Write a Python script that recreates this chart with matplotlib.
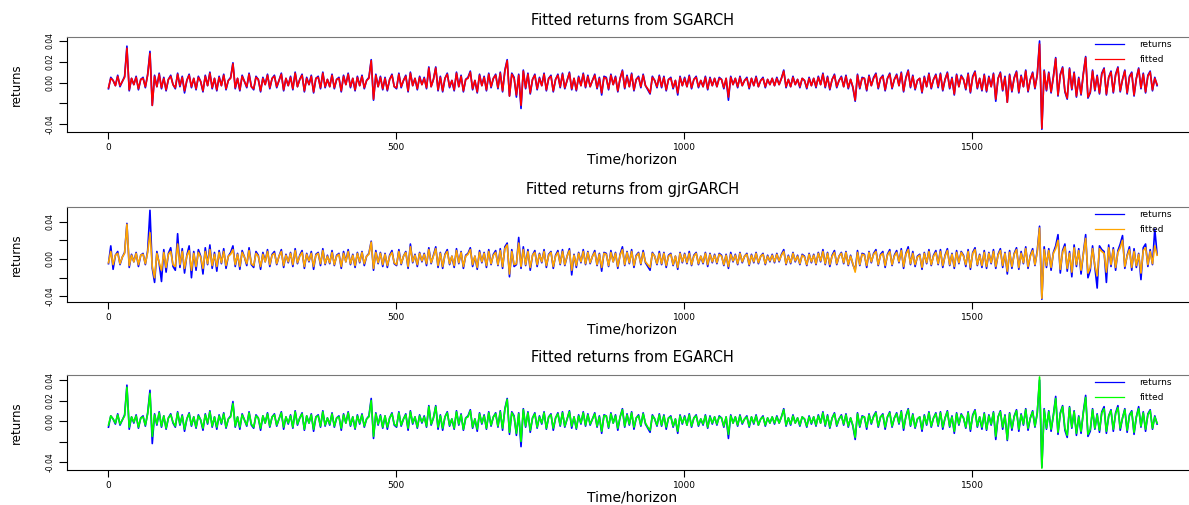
import numpy as np
import matplotlib.pyplot as plt

# observation index (every 4th day of the sample)
horizon = np.arange(1, 1822, 4)

# daily returns, in units of 0.001 (one row = 96 days)
returns_a = np.array([
    -6, 5, 2, -3, 7, -4, 1, 6, 35, -8, 4, -2, 6, -7, 3, 5, -5, 8, 30, -22, 7, -4, 9, -6,
    5, -8, 3, 7, -2, -6, 9, -4, 6, -10, 2, 8, -5, 4, -7, 6, 1, -9, 7, -3, 10, -6, 4, -8,
    6, -3, 8, -7, 2, 5, 19, -6, 4, -8, 7, 1, -5, 9, -4, -7, 6, 3, -9, 5, -2, 8, -6, 4,
    7, -5, 2, 9, -8, 4, -3, 6, -7, 10, -4, 3, 8, -9, 5, -2, 7, -10, 4, 6, -6, 10, -5, 3,
    -4, 8, -6, 3, 5, -9, 7, -2, 9, -5, 4, -8, 6, -3, 7, -6, 2, 5, 22, -17, 8, -4, 6, -7,
    5, -8, 3, 8, -4, -6, 9, -5, 2, 7, -9, 10, -3, 4, -7, 6, -2, 5, -6, 15, -4, 3, 15, -8,
    6, -9, 4, 9, -5, 2, -8, 10, -4, 7, -9, 3, 5, 11, -7, 2, -10, 8, -3, 6, -8, 9, -5, 4,
    8, -6, 10, -9, 12, 22, -13, 9, 5, -14, 8, -25, 12, -6, 9, -11, 3, 8, -7, 5, -3, 9, -8, 4,
    7, -9, 3, 8, -5, 9, -6, 2, 10, -7, 4, -8, 6, -3, 9, -5, 7, -4, 2, 8, -6, 5, -12, 6,
    5, -7, 8, -2, 6, -9, 4, 12, -6, 7, -4, 9, -8, 3, 6, -5, 8, -3, -7, -11, 6, 2, -5, 7,
    -5, 6, -8, 3, 5, -6, 2, -12, 6, -3, 5, -4, 7, -6, 3, 6, -5, 2, -4, 6, -7, 5, -3, 4,
    -4, 5, 3, -6, 4, -17, 6, -2, 4, -5, 6, -3, 2, 5, -6, 4, -3, 6, -4, 2, 5, -5, 3, -2,
    4, -3, 5, -2, 4, 12, -5, 3, -4, 6, -2, 3, -5, 4, 2, -6, 5, -3, 4, -5, 6, -2, 9, -5,
    6, -7, 3, 8, -5, 2, 6, -4, 7, -6, 3, -5, -18, 8, -6, 5, 4, -8, 7, -3, 5, 9, -6, 4,
    7, -8, 4, 9, -6, 3, 8, -3, 10, -9, 5, 12, -5, 7, -7, 2, 4, -10, 6, -4, 9, -6, 3, 8,
    -5, 9, -8, 3, 10, -6, 5, -12, 8, -4, 7, 3, -7, 9, -10, 6, 11, -6, 4, -8, 8, -9, 6, -4,
    9, -18, 4, 10, -8, 6, -19, 8, -9, 5, 11, -10, 7, -4, 12, -9, 3, 10, -6, 8, 40, -45, 12, -8,
    10, -10, 6, 24, -13, 8, 15, -9, -16, 14, -7, 10, -14, 5, -12, 9, 25, -15, -10, 12, -8, 7, -11, 9,
    14, -12, 5, 11, -10, 8, 15, -9, 3, 12, -11, 6, 10, -13, 4, 14, -6, 9, -10, 7, 11, -8, 5, -3,
]) / 1000

fitted_sgarch = np.array([
    -5, 4, 2, -3, 6, -3, 1, 5, 33, -7, 4, -2, 5, -6, 3, 4, -4, 7, 28, -22, 6, -4, 8, -5,
    4, -7, 3, 6, -2, -5, 8, -3, 5, -8, 2, 7, -4, 4, -6, 5, 1, -8, 6, -3, 9, -5, 4, -7,
    5, -3, 7, -6, 2, 4, 18, -5, 4, -7, 6, 1, -4, 8, -4, -6, 5, 3, -8, 4, -2, 7, -5, 4,
    6, -4, 2, 8, -7, 4, -3, 5, -6, 9, -4, 3, 7, -8, 4, -2, 6, -9, 4, 5, -5, 9, -4, 3,
    -4, 7, -5, 3, 4, -8, 6, -2, 8, -4, 4, -7, 5, -3, 6, -5, 2, 4, 21, -16, 7, -4, 5, -6,
    4, -7, 3, 7, -4, -5, 8, -4, 2, 6, -8, 9, -3, 4, -6, 5, -2, 4, -5, 14, -4, 3, 14, -7,
    5, -8, 4, 8, -4, 2, -7, 9, -4, 6, -8, 3, 4, 10, -6, 2, -9, 7, -3, 5, -7, 8, -4, 4,
    7, -5, 9, -8, 11, 21, -13, 8, 4, -12, 7, -22, 11, -5, 8, -10, 3, 7, -6, 4, -3, 8, -7, 4,
    6, -8, 3, 7, -4, 8, -5, 2, 9, -6, 4, -7, 5, -3, 8, -4, 6, -4, 2, 7, -5, 4, -10, 5,
    4, -6, 7, -2, 5, -8, 4, 11, -5, 6, -4, 8, -7, 3, 5, -4, 7, -3, -6, -10, 5, 2, -4, 6,
    -4, 5, -7, 3, 4, -5, 2, -10, 5, -3, 4, -4, 6, -5, 3, 5, -4, 2, -4, 5, -6, 4, -3, 4,
    -4, 4, 3, -5, 4, -14, 5, -2, 4, -4, 5, -3, 2, 4, -5, 4, -3, 5, -4, 2, 4, -4, 3, -2,
    4, -3, 4, -2, 4, 11, -4, 3, -4, 5, -2, 3, -4, 4, 2, -5, 4, -3, 4, -4, 5, -2, 8, -4,
    5, -6, 3, 7, -4, 2, 5, -4, 6, -5, 3, -4, -17, 7, -5, 4, 4, -7, 6, -3, 4, 8, -5, 4,
    6, -7, 4, 8, -5, 3, 7, -3, 9, -8, 4, 11, -4, 6, -6, 2, 4, -9, 5, -4, 8, -5, 3, 7,
    -4, 8, -7, 3, 9, -5, 4, -11, 7, -4, 6, 3, -6, 8, -9, 5, 10, -5, 4, -7, 7, -8, 5, -4,
    8, -16, 4, 9, -7, 5, -19, 7, -8, 4, 10, -9, 6, -4, 11, -8, 3, 9, -5, 7, 37, -44, 11, -7,
    9, -9, 5, 23, -12, 7, 14, -8, -15, 13, -6, 9, -13, 4, -11, 8, 24, -14, -9, 11, -7, 6, -10, 8,
    13, -11, 5, 10, -9, 7, 14, -8, 3, 11, -10, 5, 9, -12, 4, 13, -5, 8, -9, 6, 10, -7, 4, -2,
]) / 1000

returns_b = np.array([
    -5, 14, -11, 4, 8, -6, 2, 7, 38, -9, 5, -3, 7, -8, 4, 6, -6, 9, 52, -10, -25, 8, -5, -24,
    10, -14, 6, 12, -8, -12, 27, -9, 11, -15, 4, 14, -20, 8, -12, 10, 3, -16, 12, -6, 15, -10, 7, -13,
    9, -5, 11, -10, 3, 7, 14, -8, 6, -11, 9, 2, -7, 12, -6, -9, 8, 4, -11, 7, -3, 10, -8, 5,
    8, -6, 3, 10, -9, 5, -4, 7, -8, 11, -5, 4, 9, -10, 6, -3, 8, -11, 5, 7, -7, 11, -6, 4,
    -5, 9, -7, 4, 6, -10, 8, -3, 10, -6, 5, -9, 7, -4, 8, -7, 3, 6, 19, -12, 9, -5, 7, -8,
    6, -9, 4, 9, -5, -7, 10, -6, 3, 8, -10, 16, -4, 5, -8, 7, -3, 6, -7, 12, -5, 4, 13, -9,
    7, -10, 5, 10, -6, 3, -9, 11, -5, 8, -10, 4, 6, 12, -8, 3, -11, 9, -4, 7, -9, 10, -6, 5,
    9, -7, 11, -10, 13, 17, -19, 10, -8, -6, 23, -10, 13, -7, 10, -12, 4, 9, -8, 6, -4, 10, -9, 5,
    8, -10, 4, 9, -6, 10, -7, 3, 11, -17, 5, -9, 7, -4, 10, -6, 8, -5, 3, 9, -7, 6, -13, 7,
    6, -8, 9, -3, 7, -10, 5, 13, -7, 8, -5, 10, -9, 4, 7, -6, 9, -4, -8, -12, 7, 3, -6, 8,
    -6, 7, -9, 4, 6, -7, 3, -11, 7, -4, 6, -5, 8, -7, 4, 7, -6, 3, -5, 7, -8, 6, -4, 5,
    -5, 6, 4, -7, 5, -10, 7, -3, 5, -6, 7, -4, 3, 6, -7, 5, -4, 7, -5, 3, 6, -6, 4, -3,
    5, -4, 6, -3, 5, 10, -6, 4, -5, 7, -3, 4, -6, 5, 3, -7, 6, -4, 5, -6, 7, -3, 10, -6,
    7, -8, 4, 9, -6, 3, 7, -5, 8, -7, 4, -6, -12, 9, -7, 6, 5, -9, 8, -4, 6, 10, -7, 5,
    8, -9, 5, 10, -7, 4, 9, -4, 11, -10, 6, 13, -6, 8, -8, 3, 5, -11, 7, -5, 10, -7, 4, 9,
    -6, 10, -9, 4, 11, -7, 6, -10, 9, -5, 8, 4, -8, 10, -11, 7, 12, -7, 5, -9, 9, -10, 7, -5,
    10, -10, 5, 11, -9, 7, -16, 9, -10, 6, 12, -11, 8, -5, 13, -10, 4, 11, -7, 9, 35, -43, 13, -9,
    11, -12, 7, 14, 26, -15, 9, 16, -13, 8, -19, 15, -8, 11, -16, 6, 26, -20, -12, 14, -9, -31, 14, 10,
    8, -25, 15, -8, 12, -12, 9, 16, 25, -10, 4, 13, -12, 11, -9, 6, -22, 12, 16, -8, 10, -6, 32, 5,
]) / 1000

fitted_gjr = np.array([
    -4, 8, -6, 4, 6, -5, 2, 6, 37, -7, 4, -3, 6, -6, 4, 5, -5, 7, 28, -8, -20, 6, -4, -12,
    7, -9, 5, 8, -6, -8, 16, -6, 8, -10, 3, 9, -12, 6, -8, 7, 2, -10, 8, -5, 10, -7, 5, -8,
    7, -4, 8, -7, 3, 5, 10, -6, 5, -8, 7, 2, -5, 9, -5, -7, 6, 3, -8, 5, -3, 8, -6, 4,
    6, -5, 3, 8, -7, 4, -3, 6, -6, 9, -4, 3, 7, -8, 5, -2, 6, -8, 4, 6, -5, 9, -5, 3,
    -4, 7, -6, 3, 5, -8, 6, -3, 8, -5, 4, -7, 6, -3, 7, -5, 3, 5, 18, -10, 7, -4, 6, -6,
    5, -7, 3, 7, -4, -6, 8, -5, 3, 7, -8, 13, -3, 4, -6, 6, -2, 5, -5, 10, -4, 3, 11, -7,
    6, -8, 4, 8, -5, 3, -7, 9, -4, 7, -8, 3, 5, 10, -6, 3, -9, 7, -3, 6, -7, 8, -5, 4,
    7, -6, 9, -8, 11, 15, -16, 8, -6, -5, 17, -8, 10, -6, 8, -9, 4, 7, -6, 5, -3, 8, -7, 4,
    7, -8, 3, 7, -5, 8, -6, 3, 9, -12, 4, -7, 6, -3, 8, -5, 7, -4, 3, 7, -6, 5, -9, 6,
    5, -7, 7, -3, 6, -8, 4, 10, -6, 7, -4, 8, -7, 3, 6, -5, 7, -3, -6, -9, 6, 3, -5, 6,
    -5, 6, -7, 3, 5, -6, 3, -9, 6, -3, 5, -4, 6, -6, 3, 6, -5, 3, -4, 6, -6, 5, -3, 4,
    -4, 5, 3, -6, 4, -8, 5, -2, 4, -5, 6, -3, 3, 5, -6, 4, -3, 6, -4, 3, 5, -5, 3, -2,
    4, -3, 5, -2, 4, 8, -5, 3, -4, 6, -2, 3, -5, 4, 2, -6, 5, -3, 4, -5, 6, -2, 8, -5,
    6, -6, 3, 7, -5, 3, 6, -4, 7, -6, 3, -5, -14, 7, -6, 5, 4, -7, 7, -3, 5, 8, -6, 4,
    6, -7, 4, 8, -6, 3, 7, -3, 9, -8, 5, 10, -5, 6, -6, 2, 4, -9, 6, -4, 8, -6, 3, 7,
    -5, 8, -7, 3, 9, -6, 5, -8, 7, -4, 7, 3, -6, 8, -9, 6, 10, -6, 4, -7, 7, -8, 6, -4,
    8, -8, 4, 9, -7, 6, -13, 7, -8, 5, 10, -9, 6, -4, 11, -8, 3, 9, -6, 7, 33, -42, 10, -7,
    9, -9, 6, 11, 20, -11, 7, 13, -10, 6, -14, 12, -6, 9, -12, 5, 22, -15, -9, 11, -7, -18, 11, 8,
    6, -14, 12, -6, 10, -9, 7, 12, 20, -8, 3, 10, -9, 8, -7, 5, -15, 9, 12, -6, 8, -5, 14, 4,
]) / 1000

fitted_egarch = np.array([
    -4, 5, 2, -2, 6, -3, 1, 5, 33, -6, 4, -1, 5, -6, 3, 4, -4, 7, 27, -15, 6, -3, 8, -5,
    5, -7, 3, 6, -1, -5, 8, -3, 5, -8, 2, 7, -4, 4, -6, 5, 1, -7, 6, -2, 9, -5, 4, -6,
    5, -2, 7, -6, 2, 4, 17, -5, 4, -6, 6, 1, -4, 8, -3, -6, 5, 3, -7, 5, -2, 7, -5, 4,
    6, -4, 2, 8, -6, 4, -2, 5, -6, 9, -3, 3, 7, -8, 5, -2, 6, -8, 4, 5, -5, 9, -4, 3,
    -3, 7, -5, 3, 4, -7, 6, -2, 8, -4, 4, -7, 5, -2, 6, -5, 2, 4, 20, -15, 7, -3, 5, -6,
    5, -6, 3, 7, -3, -5, 8, -4, 2, 6, -7, 9, -2, 4, -6, 5, -1, 4, -5, 14, -3, 3, 14, -6,
    5, -7, 4, 8, -4, 2, -7, 9, -3, 6, -8, 3, 4, 10, -6, 2, -8, 7, -2, 5, -7, 8, -4, 4,
    7, -5, 9, -7, 11, 21, -11, 8, 4, -12, 7, -20, 11, -5, 8, -9, 3, 7, -6, 4, -2, 8, -7, 4,
    6, -7, 3, 7, -4, 8, -5, 2, 9, -5, 4, -7, 5, -2, 8, -4, 6, -3, 2, 7, -5, 4, -10, 5,
    5, -6, 7, -2, 5, -7, 4, 11, -5, 6, -3, 8, -6, 3, 5, -4, 7, -2, -6, -9, 5, 2, -4, 6,
    -4, 5, -6, 3, 4, -5, 2, -10, 5, -2, 4, -4, 6, -5, 3, 5, -4, 2, -3, 5, -6, 4, -2, 4,
    -3, 4, 3, -5, 4, -13, 5, -2, 4, -4, 5, -2, 2, 4, -5, 4, -2, 5, -4, 2, 4, -4, 3, -2,
    4, -2, 4, -2, 4, 11, -4, 3, -3, 5, -2, 3, -4, 4, 2, -5, 4, -2, 4, -4, 5, -2, 8, -4,
    5, -6, 3, 7, -4, 2, 5, -3, 6, -5, 3, -4, -16, 7, -5, 4, 4, -6, 6, -2, 4, 8, -5, 4,
    6, -6, 4, 8, -5, 3, 7, -2, 9, -7, 4, 11, -4, 6, -6, 2, 4, -8, 5, -3, 8, -5, 3, 7,
    -4, 8, -6, 3, 9, -5, 4, -10, 7, -3, 6, 3, -6, 8, -8, 5, 10, -5, 4, -6, 7, -8, 5, -3,
    8, -15, 4, 9, -6, 5, -18, 7, -7, 4, 10, -8, 6, -3, 11, -7, 3, 9, -5, 7, 43, -46, 11, -7,
    9, -8, 5, 22, -11, 7, 14, -7, -14, 13, -6, 9, -12, 4, -10, 8, 23, -13, -8, 11, -7, 6, -9, 8,
    12, -10, 5, 10, -8, 7, 13, -7, 3, 11, -9, 5, 9, -11, 4, 12, -5, 8, -8, 6, 10, -7, 4, -2,
]) / 1000

panels = [
    ("Fitted returns from SGARCH", returns_a, fitted_sgarch, "red",
     ["0.04", "0.02", "0.00", "", "-0.04"], (-0.0476, 0.0438)),
    ("Fitted returns from gjrGARCH", returns_b, fitted_gjr, "orange",
     ["0.04", "", "0.00", "", "-0.04"], (-0.0459, 0.0555)),
    ("Fitted returns from EGARCH", returns_a, fitted_egarch, "#00ff00",
     ["0.04", "0.02", "0.00", "", "-0.04"], (-0.0478, 0.0449)),
]
ytick_vals = [0.04, 0.02, 0.0, -0.02, -0.04]

W, H = 1189, 505
fig = plt.figure(figsize=(W / 100, H / 100), dpi=100)
plt.rcParams['font.family'] = ['DejaVu Sans']

tops = [37, 207, 375]
for (title, ret, fit, col, ytl, ylim), top in zip(panels, tops):
    ax = fig.add_axes([67 / W, 1 - (top + 95) / H, 1131 / W, 95 / H])
    ax.plot(horizon, ret, color="blue", lw=1.2, label="returns")
    ax.plot(horizon, fit, color=col, lw=1.2, label="fitted")
    ax.set_xlim(-71, 1892)
    ax.set_ylim(*ylim)
    ax.set_xticks([0, 500, 1000, 1500])
    ax.set_yticks(ytick_vals)
    ax.set_yticklabels(ytl, rotation=90, va="center")
    ax.tick_params(axis="x", length=5, width=0.8, pad=3, labelsize=6.5)
    ax.tick_params(axis="y", length=6, width=0.8, pad=3, labelsize=5.5)
    ax.spines["top"].set_color("#777777")
    ax.spines["right"].set_visible(False)
    ax.set_title(title, fontsize=10.5, pad=9)
    ax.set_xlabel("Time/horizon", fontsize=10, labelpad=0)
    ax.set_ylabel("returns", fontsize=8.5, labelpad=16)
    leg = ax.legend(loc="upper left", bbox_to_anchor=(0.902, 1.05), frameon=False,
                    fontsize=6.5, handlelength=3.2, handletextpad=1.7, labelspacing=0.6)
    for ln in leg.get_lines():
        ln.set_linewidth(0.9)

fig.savefig("out.png", dpi=100)
